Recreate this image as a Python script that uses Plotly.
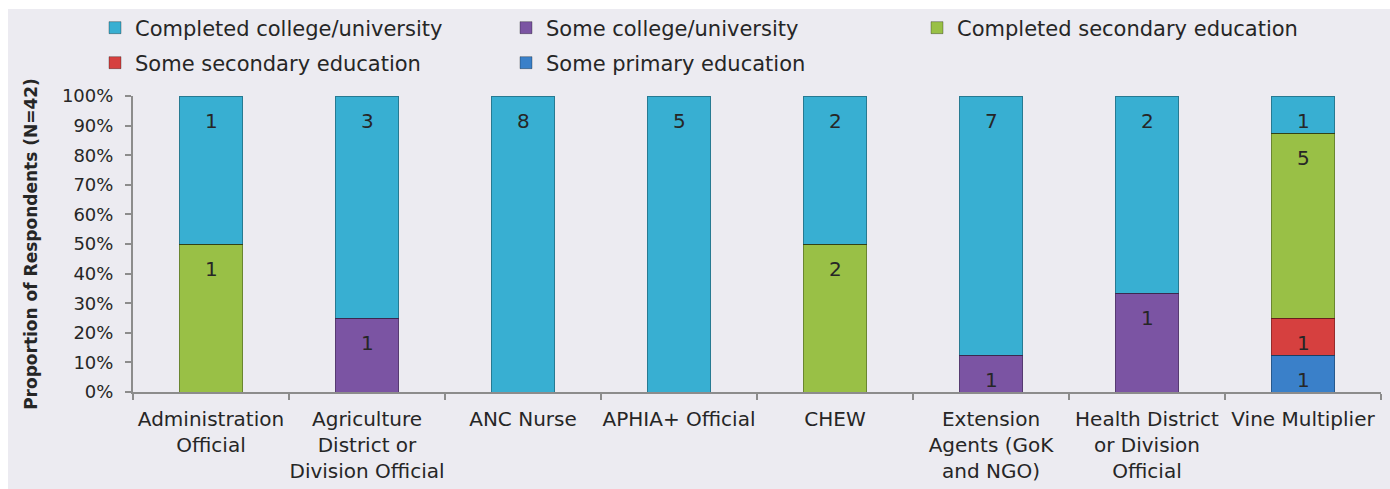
import plotly.graph_objects as go

categories = [
    "Administration<br>Official",
    "Agriculture<br>District or<br>Division Official",
    "ANC Nurse",
    "APHIA+ Official",
    "CHEW",
    "Extension<br>Agents (GoK<br>and NGO)",
    "Health District<br>or Division<br>Official",
    "Vine Multiplier",
]

# counts per education level (bottom of stack first)
some_primary = [0, 0, 0, 0, 0, 0, 0, 1]
some_secondary = [0, 0, 0, 0, 0, 0, 0, 1]
completed_secondary = [1, 0, 0, 0, 2, 0, 0, 5]
some_college = [0, 1, 0, 0, 0, 1, 1, 0]
completed_college = [1, 3, 8, 5, 2, 7, 2, 1]

series = [
    ("Some primary education", some_primary, "#3A80C9", "legend2"),
    ("Some secondary education", some_secondary, "#D6403F", "legend2"),
    ("Completed secondary education", completed_secondary, "#99C046", "legend"),
    ("Some college/university", some_college, "#7B54A3", "legend"),
    ("Completed college/university", completed_college, "#38AFD2", "legend"),
]

totals = [sum(s[1][i] for s in series) for i in range(len(categories))]

FONT = "DejaVu Sans"
TXT = "#262626"
BG = "#ECEBF1"

fig = go.Figure()
annotations = []
cum = [0.0] * len(categories)
for name, vals, color, leg in series:
    fig.add_trace(go.Bar(
        name=name, x=categories, y=vals,
        marker=dict(color=color, line=dict(color="rgba(0,0,0,0.3)", width=1)),
        legend=leg, hoverinfo="name+y",
    ))
    for i, v in enumerate(vals):
        cum[i] += v / totals[i] * 100
        if v > 0:
            annotations.append(dict(
                x=categories[i], y=cum[i], xref="x", yref="y", text=str(v),
                showarrow=False, yshift=-25, yanchor="middle",
                font=dict(family=FONT, size=20, color=TXT),
            ))

fig.update_layout(
    width=1390, height=489,
    barmode="stack", barnorm="percent", bargap=0.59,
    paper_bgcolor="white", plot_bgcolor=BG,
    margin=dict(l=133, r=9, t=96, b=97, autoexpand=False),
    font=dict(family=FONT, color=TXT),
    annotations=annotations,
    shapes=[dict(type="rect", xref="paper", yref="paper",
                 x0=(8 - 133) / 1248, x1=(1390 - 133) / 1248,
                 y0=-97 / 296, y1=1 + (96 - 9) / 296,
                 fillcolor=BG, line=dict(width=0), layer="below")],
    legend=dict(orientation="h", x=(95 - 133) / 1248, xanchor="left",
                y=1 + (96 - 28) / 296, yanchor="middle",
                traceorder="reversed", entrywidth=366,
                font=dict(family=FONT, size=21, color=TXT), bgcolor="rgba(0,0,0,0)"),
    legend2=dict(orientation="h", x=(95 - 133) / 1248, xanchor="left",
                 y=1 + (96 - 63) / 296, yanchor="middle",
                 traceorder="reversed", entrywidth=366,
                 font=dict(family=FONT, size=21, color=TXT), bgcolor="rgba(0,0,0,0)"),
    xaxis=dict(
        showline=True, linecolor="#8C8C8C", linewidth=2,
        ticks="outside", tickson="boundaries", ticklen=6, tickcolor="#8C8C8C", tickwidth=2,
        tickfont=dict(family=FONT, size=20, color=TXT), tickangle=0, ticklabelstandoff=8,
        showgrid=False, automargin=False,
    ),
    yaxis=dict(
        range=[0, 100], dtick=10, ticksuffix="%",
        showline=True, linecolor="#8C8C8C", linewidth=2,
        ticks="outside", ticklen=6, tickcolor="#8C8C8C", tickwidth=2,
        tickfont=dict(family=FONT, size=18, color=TXT), ticklabelstandoff=8,
        showgrid=False, zeroline=False, automargin=False,
        title=dict(text="<b>Proportion of Respondents (N=42)</b>",
                   font=dict(family=FONT, size=17, color=TXT), standoff=20),
    ),
)

fig.write_html("out.html")
